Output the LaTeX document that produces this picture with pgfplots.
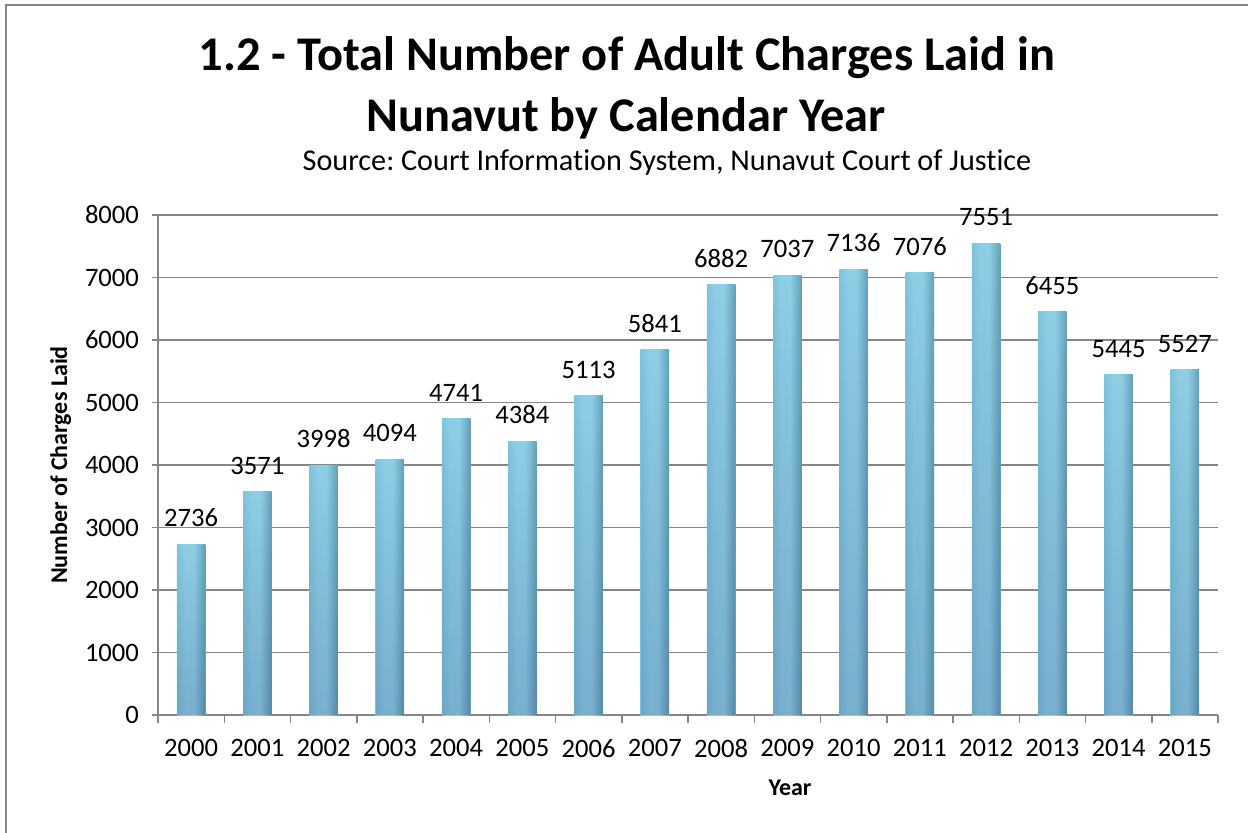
\documentclass[border=0pt]{standalone}
\usepackage{pgfplots}
\pgfplotsset{compat=1.18}
\usetikzlibrary{fadings}
\usepackage{fontspec}
\setmainfont{Carlito}[Ligatures=NoCommon]
\frenchspacing
\definecolor{gridgray}{RGB}{134,134,134}
\definecolor{barL}{RGB}{105,175,202}
\definecolor{barM}{RGB}{142,207,230}
\definecolor{barR}{RGB}{78,138,160}
\pgfdeclarehorizontalshading{barshade}{100bp}{
  color(0bp)=(barL); color(40bp)=(barM); color(55bp)=(barM); color(85bp)=(barR); color(100bp)=(barR)}
\pgfplotsset{barsty/.style={draw=none, shading=barshade,
  postaction={fill=black!70!blue, fill opacity=0.18, path fading=north}}}
\begin{document}
\begin{tikzpicture}
\path[use as bounding box] (0,0) rectangle (624pt,416pt);
\draw[gridgray, line width=1.1pt] (3pt,-5pt) -- (3pt,413.5pt) -- (630pt,413.5pt);
\node[font=\fontsize{24.2}{28}\selectfont\bfseries] at (313.5pt,387pt) {1.2 - Total Number of Adult Charges Laid in};
\node[font=\fontsize{24.2}{28}\selectfont\bfseries] at (313pt,357pt) {Nunavut by Calendar Year};
\node[font=\fontsize{15.1}{18}\selectfont] at (333.5pt,334.5pt) {Source: Court Information System, Nunavut Court of Justice};
\begin{axis}[
  at={(79pt,58.5pt)}, anchor=south west,
  width=530pt, height=250pt, scale only axis,
  xmin=-0.5, xmax=15.5, ymin=0, ymax=8000,
  axis x line*=bottom, axis y line*=left,
  axis line style={gridgray, line width=0.75pt, -},
  xtick={0,...,15},
  xticklabels={2000,2001,2002,2003,2004,2005,2006,2007,2008,2009,2010,2011,2012,2013,2014,2015},
  major x tick style={draw=none},
  minor xtick={-0.5,0.5,...,15.5},
  minor x tick style={gridgray, line width=0.75pt},
  minor tick length=4pt,
  ytick={0,1000,...,8000},
  major tick length=3pt,
  tick align=outside,
  y tick style={gridgray, line width=0.75pt},
  ymajorgrids, grid style={gridgray, line width=0.75pt},
  /pgf/number format/assume math mode=true,
  /pgf/number format/1000 sep={},
  tick label style={font=\fontsize{13.3}{15}\selectfont},
  xticklabel style={yshift=-5.5pt},
  yticklabel style={xshift=-3pt},
  ylabel={\bfseries Number of Charges Laid},
  ylabel style={font=\fontsize{12}{14}\selectfont},
  ybar, bar width=14.2pt, bar shift=0pt,
  nodes near coords,
  nodes near coords style={font=\fontsize{13.3}{15}\selectfont, yshift=5pt, black},
  clip=false,
]
\addplot[barsty] coordinates {(0,2736)};
\addplot[barsty] coordinates {(1,3571)};
\addplot[barsty] coordinates {(2,3998)};
\addplot[barsty] coordinates {(3,4094)};
\addplot[barsty] coordinates {(4,4741)};
\addplot[barsty] coordinates {(5,4384)};
\addplot[barsty] coordinates {(6,5113)};
\addplot[barsty] coordinates {(7,5841)};
\addplot[barsty] coordinates {(8,6882)};
\addplot[barsty] coordinates {(9,7037)};
\addplot[barsty] coordinates {(10,7136)};
\addplot[barsty] coordinates {(11,7076)};
\addplot[barsty] coordinates {(12,7551)};
\addplot[barsty] coordinates {(13,6455)};
\addplot[barsty] coordinates {(14,5445)};
\addplot[barsty] coordinates {(15,5527)};
\end{axis}
\node[font=\fontsize{12}{14}\selectfont\bfseries] at (395pt,22pt) {Year};
\end{tikzpicture}
\end{document}
